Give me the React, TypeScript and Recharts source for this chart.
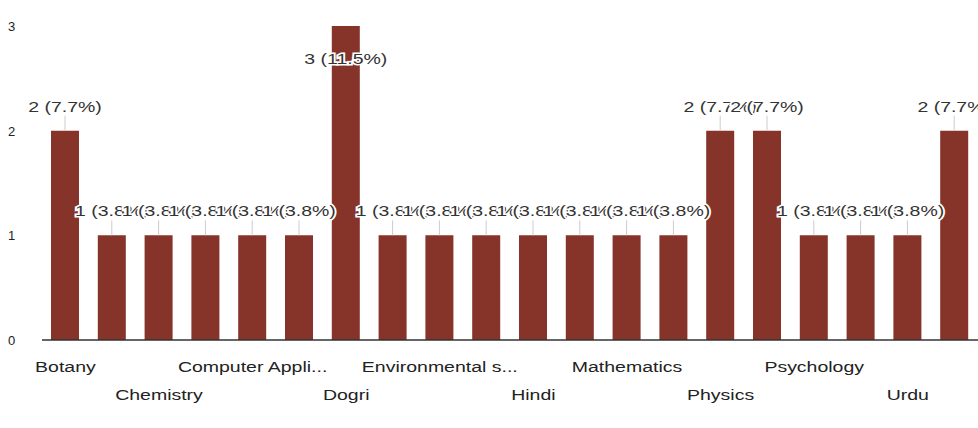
import { BarChart, Bar, XAxis, YAxis, LabelList } from 'recharts'

const subjects = [
  'Botany', 'Business Studies', 'Chemistry', 'Commerce', 'Computer Applications',
  'Computer Science', 'Dogri', 'Economics', 'Environmental science', 'Geography',
  'Hindi', 'History', 'Mathematics', 'Music', 'Physics',
  'Political Science', 'Psychology', 'Sanskrit', 'Urdu', 'Zoology',
]
// axis text as it is shown (every other category, long names cut)
const tickLabels = [
  'Botany', '', 'Chemistry', '', 'Computer Appli...',
  '', 'Dogri', '', 'Environmental s...', '',
  'Hindi', '', 'Mathematics', '', 'Physics',
  '', 'Psychology', '', 'Urdu', '',
]
const counts = [2, 1, 1, 1, 1, 1, 3, 1, 1, 1, 1, 1, 1, 1, 2, 2, 1, 1, 1, 2]
const yTicks = [0, 1, 2, 3]

const total = counts.reduce((a, b) => a + b, 0)
const data = subjects.map((name, i) => ({ name, value: counts[i] }))

const BAR = '#86332a'
const FONT = '"Liberation Sans", Arial, sans-serif'
const SX = 1.3 // scan is stretched sideways

function XTick(props: any) {
  const { x, y, index } = props
  const label = tickLabels[index]
  if (!label) return null
  const low = (index / 2) % 2 === 1
  return (
    <g transform={`translate(${x},${y + (low ? 52 : 24)}) scale(${SX},1)`}>
      <text x={0} y={0} textAnchor="middle" fontSize={15} fill="#222" fontFamily={FONT}>
        {label}
      </text>
    </g>
  )
}

function YTick(props: any) {
  const { y, payload } = props
  return (
    <text x={8} y={y + 5} fontSize={13} fill="#222" fontFamily={FONT}>
      {payload.value}
    </text>
  )
}

function ValueLabel(props: any) {
  const { x, y, width, value } = props
  const cx = x + width / 2
  const pct = ((value / total) * 100).toFixed(1)
  const inside = y < 40
  const ty = inside ? y + 38 : y - 19
  return (
    <g>
      {!inside && <line x1={cx} x2={cx} y1={ty + 4} y2={y} stroke="#ccc" strokeWidth={1} />}
      <g transform={`translate(${cx},${ty}) scale(${SX},1)`}>
        <text
          x={0}
          y={0}
          textAnchor="middle"
          fontSize={15}
          fill="#333"
          fontFamily={FONT}
          stroke="#fff"
          strokeWidth={3}
          paintOrder="stroke"
        >
          {`${value} (${pct}%)`}
        </text>
      </g>
    </g>
  )
}

export default function App() {
  return (
    <div style={{ position: 'absolute', left: 0, top: 0, background: '#fff' }}>
      <BarChart width={978} height={428} data={data} margin={{ top: 26, right: 0, bottom: 58, left: 0 }}>
        <XAxis
          dataKey="name"
          interval={0}
          tickLine={false}
          axisLine={{ stroke: '#333', strokeWidth: 1.5 }}
          tick={<XTick />}
        />
        <YAxis
          width={42}
          domain={[0, 3]}
          ticks={yTicks}
          axisLine={false}
          tickLine={false}
          tick={<YTick />}
        />
        <Bar dataKey="value" fill={BAR} barSize={28} isAnimationActive={false}>
          <LabelList dataKey="value" content={<ValueLabel />} />
        </Bar>
      </BarChart>
    </div>
  )
}
